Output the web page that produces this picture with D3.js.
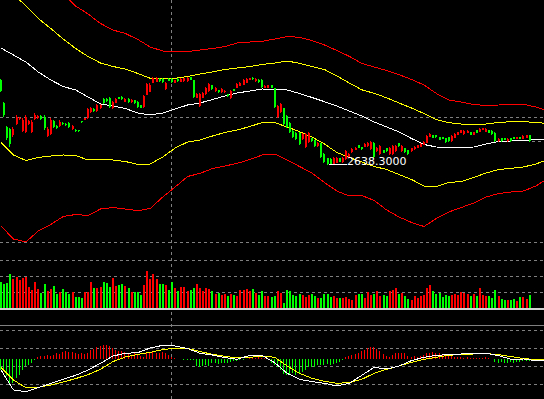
<!DOCTYPE html>
<html lang="en">
<head>
<meta charset="UTF-8">
<title>K-line</title>
<script src="https://d3js.org/d3.v7.min.js"></script>
<style>
  html, body { margin: 0; padding: 0; background: #000; overflow: hidden; }
  svg { display: block; }
</style>
</head>
<body>
<svg id="chart" width="544" height="399"></svg>
<script>
// daily candles
const opens = [
  2893,2824,2752,2746,2728,2761,2776,2740,2737,2761,
  2737,2776,2779,2785,2782,2725,2731,2770,2755,2755,
  2764,2761,2764,2746,2743,2742,2770,2774,2779,2797,
  2806,2800,2809,2836,2836,2839,2809,2824,2842,2843,
  2828,2837,2826,2832,2828,2817,2811,2848,2857,2884,
  2887,2897,2896,2865,2897,2897,2885,2897,2888,2889,
  2890,2901,2892,2840,2815,2840,2850,2859,2877,2859,
  2862,2856,2856,2850,2839,2865,2870,2876,2879,2885,
  2894,2900,2889,2894,2893,2870,2870,2877,2869,2782,
  2797,2809,2786,2765,2741,2735,2735,2716,2692,2707,
  2718,2712,2694,2703,2672,2658,2657,2642,2645,2658,
  2646,2655,2661,2676,2684,2697,2691,2693,2694,2686,
  2705,2679,2670,2682,2688,2671,2670,2679,2703,2679,
  2688,2682,2679,2685,2690,2693,2699,2705,2723,2727,
  2727,2721,2721,2718,2721,2709,2720,2729,2735,2730,
  2735,2736,2729,2742,2738,2744,2738,2742,2741,2735,
  2709,2718,2718,2709,2718,2721,2717,2721,2717,2720,2727
];
const highs = [
  2896,2827,2755,2749,2752,2788,2782,2779,2788,2773,
  2773,2794,2788,2788,2788,2752,2779,2773,2758,2773,
  2767,2764,2767,2758,2746,2743,2771,2779,2809,2812,
  2808,2821,2821,2839,2839,2842,2830,2839,2842,2845,
  2839,2839,2836,2833,2830,2818,2848,2884,2884,2902,
  2902,2899,2899,2887,2899,2899,2893,2899,2899,2899,
  2902,2902,2893,2854,2854,2857,2872,2884,2878,2872,
  2863,2869,2863,2851,2863,2866,2884,2887,2896,2899,
  2899,2902,2899,2896,2896,2878,2878,2878,2870,2818,
  2824,2809,2788,2767,2743,2737,2737,2734,2734,2737,
  2719,2713,2707,2704,2674,2659,2659,2662,2662,2659,
  2662,2683,2674,2689,2692,2698,2692,2704,2707,2710,
  2707,2692,2698,2683,2689,2692,2698,2698,2704,2698,
  2689,2683,2689,2695,2698,2704,2710,2728,2734,2728,
  2728,2722,2722,2719,2722,2728,2734,2737,2743,2743,
  2743,2737,2737,2743,2749,2749,2749,2743,2743,2737,
  2719,2719,2719,2719,2719,2722,2722,2722,2728,2728,2728
];
const lows = [
  2857,2782,2713,2692,2722,2758,2773,2737,2734,2758,
  2734,2773,2776,2773,2743,2722,2728,2749,2746,2752,
  2758,2755,2749,2743,2737,2737,2764,2773,2776,2794,
  2797,2797,2806,2821,2827,2809,2806,2824,2836,2833,
  2827,2824,2824,2821,2809,2809,2809,2848,2857,2884,
  2886,2887,2884,2863,2890,2884,2884,2887,2887,2887,
  2887,2893,2839,2839,2812,2839,2848,2857,2863,2857,
  2854,2854,2854,2842,2836,2860,2869,2875,2878,2884,
  2893,2893,2887,2884,2869,2869,2869,2869,2809,2779,
  2794,2758,2749,2734,2719,2713,2698,2713,2689,2704,
  2707,2692,2692,2659,2644,2638.3,2640,2640,2644,2647,
  2644,2653,2659,2674,2683,2689,2683,2692,2692,2683,
  2659,2677,2668,2674,2677,2668,2668,2677,2692,2677,
  2674,2668,2677,2683,2689,2692,2698,2704,2722,2719,
  2719,2713,2716,2704,2707,2707,2719,2728,2734,2728,
  2734,2728,2728,2734,2737,2743,2737,2734,2728,2707,
  2707,2707,2713,2707,2707,2716,2716,2716,2716,2719,2707
];
const closes = [
  2860,2788,2719,2701,2746,2782,2779,2773,2782,2770,
  2767,2788,2785,2776,2749,2746,2773,2752,2749,2767,
  2761,2758,2752,2755,2740,2739,2766,2778,2806,2809,
  2799,2818,2818,2824,2830,2812,2827,2836,2837,2836,
  2836,2826,2834,2823,2811,2810,2845,2880,2878,2899,
  2898,2889,2887,2884,2891,2886,2892,2889,2897,2898,
  2900,2894,2842,2852,2851,2855,2869,2881,2865,2869,
  2856,2867,2861,2844,2860,2861,2881,2885,2893,2896,
  2898,2895,2897,2886,2872,2876,2877,2870,2812,2815,
  2821,2762,2752,2737,2722,2716,2702,2731,2730,2734,
  2709,2694,2705,2662,2647,2641,2642,2660,2659,2648,
  2660,2680,2672,2687,2690,2690,2685,2702,2705,2707,
  2662,2690,2695,2675,2679,2689,2695,2696,2694,2696,
  2676,2670,2688,2693,2697,2702,2708,2725,2732,2720,
  2721,2714,2717,2706,2709,2726,2732,2736,2742,2741,
  2741,2729,2736,2735,2747,2748,2747,2735,2730,2710,
  2717,2709,2714,2717,2709,2717,2721,2717,2726,2727,2710
];
const volumes = [
  2660,2400,2500,3400,2900,3100,2860,3000,3100,2100,
  1800,2600,1900,1500,2400,1700,1900,2200,1400,1600,
  1900,1600,1400,1600,1100,1100,1000,1600,1600,2600,
  2000,2000,2100,2600,2500,2100,3000,2200,2300,2400,
  2200,2000,1600,1600,1600,1300,2300,3700,2900,3400,
  2900,2400,2400,2300,1800,2600,2000,1700,2100,2100,
  1700,1800,2000,2400,2000,1700,2000,1900,1700,1400,
  1500,1300,1400,1200,1400,1300,1200,1800,1800,1900,
  1700,1900,1500,1300,1700,1200,1200,1100,1200,1700,
  1500,500,1800,1700,1300,1200,1400,1300,1100,1300,
  1400,1200,1000,1000,1400,1400,1100,1200,1000,1000,
  1000,1100,900,800,1300,1400,1400,1000,1600,1300,
  1400,1700,1200,1300,1200,1700,1800,2000,1400,1500,
  1200,900,800,1200,1000,1200,1300,2000,2300,1700,
  1400,1500,1100,1300,1200,1300,1400,1300,1600,1500,
  1400,1200,1400,1200,2000,1300,1200,1200,1000,1800,
  1200,900,800,800,800,900,700,1100,1100,900,1300
];

// MACD histogram (runs a few bars past the last candle, as in the picture)
const macdHist = [
  -11,-11,-17,-25,-24,-19,-16,-11,-7,-6,
  -4,-1,2,3,3.5,4.5,3.5,4.5,6,5.5,
  7.5,8.5,7.5,7,6,5,6,5,6.5,9,
  10,12.5,13,14,14.5,13.5,11,9.5,8.5,8.5,
  7.5,6,4.5,6,4.5,3,2,6,6.5,7.5,
  6.5,6,7.5,6.5,4,2,1,0.5,0.3,-0.3,
  -0.5,-0.5,-1,-7,-8,-6.5,-5.5,-6.5,-4,-3.5,
  -5,-4,-4,-3.5,-2.5,-2,-1.5,-0.7,-0.3,0.5,
  1.5,2,1.5,2,1.5,1,0,-4,-6,-8,
  -11,-15,-15.5,-15,-14,-15.5,-14,-12.5,-11,-8,
  -7.5,-7.5,-6,-5.5,-5.5,-5,-5.5,-4.5,-4,-2.5,
  -0.7,2,3,4,5.5,6,8.5,9.5,11,12,
  12.5,10,8,5,3.5,2.7,4,6,6.5,6,
  6.5,3.5,2.7,3.5,2.7,3.5,4.5,6,6.5,7.5,
  6.5,6.5,5,4,3,3.5,2.5,2,2,1.5,
  2,1.3,1.5,1.3,1,1,2,1,0.5,-2.5,
  -3.5,-2.5,-3.5,-3.5,-2.5,-3.5,-2.5,-3,-2,-2,
  -1.5,-2,-1.5,-2,-1.5
];

// indicator lines, read every 4th bar
const lineIdx = [0,4,8,12,16,20,24,28,32,36,40,44,48,52,56,60,64,68,72,76,80,84,
  88,92,96,100,104,108,112,116,120,124,128,132,136,140,144,148,152,156,160,164,168,172,175];
const ma = [2989,2968,2947,2917,2893,2873.5,2863,2842,2821,2815,2807.5,2794,2788,2794,2806,
  2818,2824,2834.5,2845,2854,2860,2866,2865,2863,2852.5,2840.5,2828,2815,2800,2785,2767,
  2752,2737,2717.5,2699.5,2692,2690.5,2690.5,2692,2701,2708.5,2710,2711.5,2714.5,2715];
const upper1 = [3190,3151,3115,3077.5,3047.5,3016,2987.5,2963.5,2944,2933.5,2926,2912.5,2898,
  2898,2898,2903.5,2911,2917,2924.5,2929,2933.5,2939.5,2944,2950,2943,2933.5,2924.5,2905,
  2884,2863.6,2853,2839.6,2824,2809,2792.5,2774.5,2765,2761,2758,2761,2765.5,2768,2768,2765.5,2763];
const lower1 = [2705.5,2668,2651.5,2660.5,2665,2668,2666.5,2653,2654.5,2653,2648.5,2639.5,2641,
  2662,2689,2707,2713,2725,2735.5,2743,2753.5,2765.5,2765.5,2752,2738,2722,2701,2675.5,2660.5,
  2647,2633.5,2624.5,2609.5,2594.5,2575,2573.5,2585.5,2588.5,2600.5,2614,2624.5,2628,2632,2641,2651.5];
const upper2 = [3343,3298,3259,3223,3187,3151,3115,3091,3062.5,3043,3032.5,3014.5,2992,2980,
  2978.5,2978.5,2983,2987.5,2993.5,3004,3007,3009,3016,3023.5,3021,3011.5,2998,2981.5,2964,
  2942.5,2932,2921.5,2909,2894.5,2878,2852.5,2833,2827,2819.5,2816.5,2818,2819.5,2820,2812,2803];
const lower2 = [2455,2416,2407,2440,2459.5,2483.5,2489.5,2486.5,2506,2510.5,2506,2501,2507.5,
  2542,2572,2603.5,2613,2627.5,2635,2643,2654.5,2668,2671,2653,2633.5,2614,2585.5,2560,2545,
  2546.5,2531.5,2503,2482,2465.5,2453.5,2477.5,2497,2510.5,2524,2542,2552.5,2557,2560,2575,2593];
const dif = [-10.7,-30.7,-32.3,-28.3,-24,-20,-16,-10.7,-4,3.3,6,6.7,11.3,14,13.3,10.7,6,4.3,
  1.7,0,4,3.7,-3.3,-14,-20,-22.3,-24,-26.7,-24,-16,-8,-9.7,-6.7,-1.3,2,4,4.7,5.3,5.7,6,3.7,
  0,0.3,-1.3,-1.3];
const dea = [-8,-20.7,-28.3,-28,-25.7,-22.7,-19.3,-15.3,-10,-2.3,2.3,5,7,9.7,11,11,7.7,5,3,
  1.3,2,3.3,2,-6.7,-14,-19,-22,-24,-23.3,-20,-14,-10,-6.7,-3,0,2,4,5,5.3,5.7,4.7,2.7,0.7,
  -0.3,-0.7];

const priceGrid = [2782, 2407];
const volGrid = [1600, 3200, 4800];
const macdGrid = [28.6, 11, -6.7, -24.7];
const cursorIndex = 55;
const lowIndex = 105;
const lowLabel = '2638.3000';

const UP = '#ff0000', DOWN = '#00ff00', GRID = '#808080';

const svg = d3.select('#chart');
svg.append('rect').attr('width', 544).attr('height', 399).attr('fill', '#000');

const x = d3.scaleLinear().domain([0, 175]).range([1, 545.25]);
const yPrice = d3.scaleLinear().domain([2368, 3133]).range([255, 0]);
const yVol = d3.scaleLinear().domain([0, 5000]).range([308.3, 258.3]);
const yMacd = d3.scaleLinear().domain([-40, 34]).range([399.3, 325.3]);

const px = (i) => Math.round(x(i));      // right column of a 2px bar
const hy = (v) => Math.floor(v) + 0.5;   // crisp horizontal line

svg.append('clipPath').attr('id', 'mainClip')
  .append('rect').attr('x', 0).attr('y', 0).attr('width', 544).attr('height', 256);

const grid = svg.append('g')
  .attr('stroke', GRID)
  .attr('stroke-dasharray', '3,3')
  .attr('shape-rendering', 'crispEdges');

// horizontal grid lines
grid.selectAll('.pg').data(priceGrid).enter().append('line')
  .attr('x1', 0).attr('x2', 544)
  .attr('y1', (d) => hy(yPrice(d))).attr('y2', (d) => hy(yPrice(d)));
grid.selectAll('.vg').data(volGrid).enter().append('line')
  .attr('x1', 0).attr('x2', 544)
  .attr('y1', (d) => hy(yVol(d))).attr('y2', (d) => hy(yVol(d)));
grid.selectAll('.mg').data(macdGrid).enter().append('line')
  .attr('x1', 0).attr('x2', 544)
  .attr('y1', (d) => hy(yMacd(d))).attr('y2', (d) => hy(yMacd(d)));

// crosshair
grid.append('line')
  .attr('x1', px(cursorIndex) - 0.5).attr('x2', px(cursorIndex) - 0.5)
  .attr('y1', 0).attr('y2', 399);

// top border of the macd pane
svg.append('line')
  .attr('x1', 0).attr('x2', 544)
  .attr('y1', hy(yMacd(34))).attr('y2', hy(yMacd(34)))
  .attr('stroke', GRID).attr('shape-rendering', 'crispEdges');

// bands and moving average
const main = svg.append('g').attr('clip-path', 'url(#mainClip)');
const priceLine = d3.line()
  .x((d, k) => x(lineIdx[k]))
  .y((d) => yPrice(d));

[[upper2, UP], [lower2, UP], [upper1, '#ffff00'], [lower1, '#ffff00'], [ma, '#ffffff']]
  .forEach(([vals, color]) => {
    main.append('path')
      .datum(vals)
      .attr('d', priceLine)
      .attr('fill', 'none')
      .attr('stroke', color)
      .attr('stroke-width', 1)
      .attr('shape-rendering', 'crispEdges');
  });

// candles
const candles = main.selectAll('.candle')
  .data(opens.map((o, i) => i))
  .enter().append('g');

candles.append('line')
  .attr('x1', (i) => px(i) - 0.5).attr('x2', (i) => px(i) - 0.5)
  .attr('y1', (i) => yPrice(highs[i])).attr('y2', (i) => yPrice(lows[i]))
  .attr('stroke', (i) => closes[i] >= opens[i] ? UP : DOWN)
  .attr('shape-rendering', 'crispEdges');

candles.append('rect')
  .attr('x', (i) => px(i) - 1)
  .attr('width', 2)
  .attr('y', (i) => yPrice(Math.max(opens[i], closes[i])))
  .attr('height', (i) => Math.max(1, Math.abs(yPrice(opens[i]) - yPrice(closes[i]))))
  .attr('fill', (i) => closes[i] >= opens[i] ? UP : DOWN)
  .attr('shape-rendering', 'crispEdges');

// low marker
const lowY = hy(yPrice(lows[lowIndex]));
svg.append('line')
  .attr('x1', px(lowIndex) + 1).attr('x2', 347)
  .attr('y1', lowY).attr('y2', lowY)
  .attr('stroke', '#ffffff').attr('shape-rendering', 'crispEdges');
svg.append('text')
  .attr('x', 347).attr('y', lowY + 0.5)
  .attr('fill', '#ffffff')
  .attr('font-family', 'DejaVu Sans, sans-serif')
  .attr('font-size', 11)
  .text(lowLabel);

// last price marker
const last = closes.length - 1;
svg.append('line')
  .attr('x1', px(last) + 2).attr('x2', 544)
  .attr('y1', hy(yPrice(closes[last]))).attr('y2', hy(yPrice(closes[last])))
  .attr('stroke', GRID).attr('stroke-dasharray', '3,3')
  .attr('shape-rendering', 'crispEdges');

// volume
svg.selectAll('.vol')
  .data(volumes)
  .enter().append('rect')
  .attr('x', (d, i) => px(i) - 1)
  .attr('width', 2)
  .attr('y', (d) => yVol(d))
  .attr('height', (d) => yVol(0) - yVol(d))
  .attr('fill', (d, i) => closes[i] >= opens[i] ? UP : DOWN)
  .attr('shape-rendering', 'crispEdges');

svg.append('rect')
  .attr('x', 0).attr('y', Math.floor(yVol(0)))
  .attr('width', 544).attr('height', 2)
  .attr('fill', '#d0d0d0');

// macd histogram
svg.selectAll('.hist')
  .data(macdHist)
  .enter().append('line')
  .attr('x1', (d, i) => px(i) - 0.5).attr('x2', (d, i) => px(i) - 0.5)
  .attr('y1', yMacd(0)).attr('y2', (d) => yMacd(d))
  .attr('stroke', (d) => d >= 0 ? UP : DOWN)
  .attr('shape-rendering', 'crispEdges');

const macdLine = d3.line()
  .x((d, k) => x(lineIdx[k]))
  .y((d) => yMacd(d));

[[dea, '#ffff00'], [dif, '#ffffff']].forEach(([vals, color]) => {
  svg.append('path')
    .datum(vals)
    .attr('d', macdLine)
    .attr('fill', 'none')
    .attr('stroke', color)
    .attr('stroke-width', 1)
    .attr('shape-rendering', 'crispEdges');
});
</script>
</body>
</html>
